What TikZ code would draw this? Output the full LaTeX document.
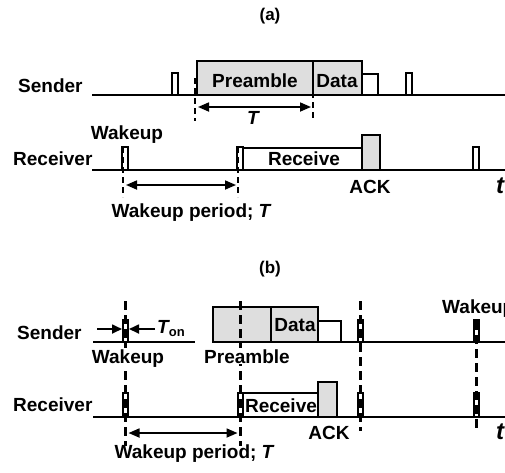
\documentclass[tikz,border=0pt]{standalone}
\usepackage{fontspec}
\setmainfont{Liberation Sans}
\usetikzlibrary{arrows.meta}
\definecolor{boxgray}{RGB}{222,222,222}
\begin{document}
\begin{tikzpicture}[x=1pt,y=-1pt,
  lbl/.style={font=\fontsize{19}{22}\selectfont\bfseries, inner sep=0pt, anchor=base},
  lblw/.style={lbl, anchor=base west},
  paneltitle/.style={font=\fontsize{17}{20}\selectfont\bfseries, inner sep=0pt, anchor=base},
  tlbl/.style={font=\fontsize{24}{26}\selectfont\bfseries\itshape, inner sep=0pt, anchor=base},
  cover/.style={lbl, fill=white, inner sep=1pt},
  axis/.style={line width=2.2pt},
  pulse/.style={draw, line width=1.4pt, fill=white},
  graybox/.style={draw, line width=1.6pt, fill=boxgray},
  whitebox/.style={draw, line width=1.6pt, fill=white},
  marka/.style={line width=2.2pt, dash pattern=on 6pt off 4pt},
  markb/.style={line width=2.8pt, dash pattern=on 9pt off 5pt},
  dim/.style={line width=1.7pt, {Triangle[length=11pt,width=9pt]}-{Triangle[length=11pt,width=9pt]}},
  pointer/.style={line width=1.7pt, -{Triangle[length=10pt,width=9pt]}}
]
\useasboundingbox (0,0) rectangle (505,472);
\clip (0,0) rectangle (505,472);

% ---------------- (a) ----------------
\node[paneltitle] (capa) at (270,20) {(a)};

% sender time line
\draw[axis] (92,95) -- (505,95);
\draw[pulse] (172,95) rectangle (178,73);
\draw[graybox] (197,95) rectangle (313,61);
\draw[graybox] (313,95) rectangle (362,61);
\draw[whitebox] (362,95) rectangle (378,74);
\draw[pulse] (406,95) rectangle (412,73);

% receiver time line
\draw[axis] (92,170) -- (505,170);
\draw[pulse] (122,170) rectangle (128,147);
\draw[pulse] (237,170) rectangle (243,147);
\draw[whitebox] (243,170) rectangle (362,148);
\draw[graybox] (362,170) rectangle (380,135);
\draw[pulse] (473,170) rectangle (479,147);

% period markers
\coordinate (pa1) at (195,107);
\coordinate (pa2) at (313,107);
\coordinate (wa1) at (123,185);
\coordinate (wa2) at (238,185);
\draw[marka] (195,78) -- (195,121);
\draw[marka] (313,62) -- (313,121);
\draw[marka] (123,147) -- (123,197);
\draw[marka] (238,147) -- (238,197);
\draw[dim, shorten <=3pt, shorten >=2pt] (pa1) -- (pa2);
\draw[dim, shorten <=3pt, shorten >=2pt] (wa1) -- (wa2);

\node[lblw] (senda) at (18,92) {Sender};
\node[lbl] (prea) at (255,87) {Preamble};
\node[lbl] (dataa) at (337,87) {Data};
\node[lbl] (Ta) at (253,124) {\itshape T};
\node[lbl] (wakea) at (127,139) {Wakeup};
\node[lblw] (recva) at (13,165) {Receiver};
\node[lbl] (rcva) at (304,165) {Receive};
\node[lbl] (acka) at (370,193) {ACK};
\node[tlbl] (ta) at (500,193) {t};
\node[lbl] (pera) at (191,217) {Wakeup period; \itshape T};

% ---------------- (b) ----------------
\node[paneltitle] (capb) at (270,273) {(b)};

% sender time line
\draw[axis] (93,342) -- (195,342);
\draw[axis] (213,342) -- (505,342);
\draw[graybox] (213,342) rectangle (271,307);
\draw[graybox] (271,342) rectangle (318,307);
\draw[whitebox] (318,342) rectangle (341,321);
\draw[pulse] (123,342) rectangle (128,320);
\draw[pulse] (358,342) rectangle (363,320);
\draw[pulse] (474,342) rectangle (479,320);

% receiver time line
\draw[axis] (93,417) -- (505,417);
\draw[pulse] (123,417) rectangle (128,393);
\draw[pulse] (238,417) rectangle (243,393);
\draw[whitebox] (243,417) rectangle (318,393);
\draw[graybox] (318,417) rectangle (337,382);
\draw[pulse] (358,417) rectangle (363,393);
\draw[pulse] (474,417) rectangle (479,393);

% wake-up instants
\draw[markb] (125.5,301) -- (125.5,446);
\draw[markb] (240.5,301) -- (240.5,446);
\draw[markb] (360.5,301) -- (360.5,431);
\draw[markb] (476.5,321) -- (476.5,431);

\coordinate (wb1) at (125.5,433);
\coordinate (wb2) at (240.5,433);
\draw[dim, shorten <=3pt, shorten >=3pt] (wb1) -- (wb2);

\coordinate (on1) at (97,329);
\coordinate (on2) at (122,329);
\coordinate (on3) at (155,329);
\coordinate (on4) at (129,329);
\draw[pointer] (on1) -- (on2);
\draw[pointer] (on3) -- (on4);

\node[lblw] (sendb) at (17,339) {Sender};
\node[lblw] (ton) at (157,333) {\itshape T\upshape\raisebox{-3pt}{\fontsize{13}{14}\selectfont on}};
\node[lbl] (datab) at (295,331) {Data};
\node[cover] (wakeb) at (128,363) {Wakeup};
\node[cover] (preb) at (247,363) {Preamble};
\node[lblw] (wakeb2) at (442,313) {Wakeup};
\node[lblw] (recvb) at (13,411) {Receiver};
\node[lbl] (rcvb) at (281,412) {Receive};
\node[lbl] (ackb) at (329,439) {ACK};
\node[tlbl] (tb) at (500,439) {t};
\node[lbl] (perb) at (194,458) {Wakeup period; \itshape T};
\end{tikzpicture}
\end{document}
